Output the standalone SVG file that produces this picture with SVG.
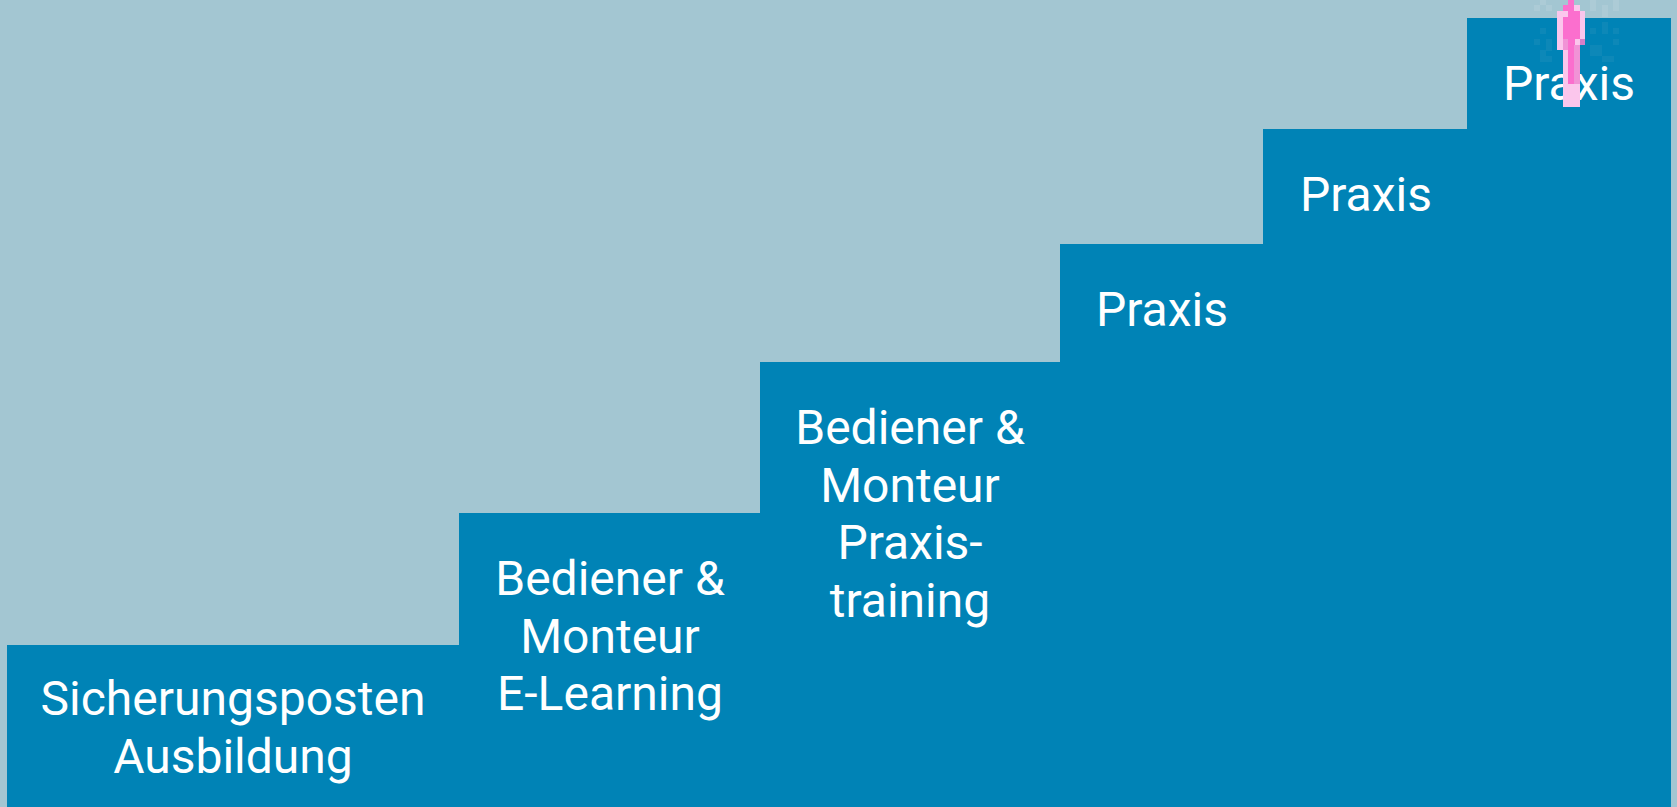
<svg xmlns="http://www.w3.org/2000/svg" width="1677" height="807" viewBox="0 0 1677 807">
<style>
.s{fill:#0083b6}
.t{font-family:Roboto,"Liberation Sans",sans-serif;font-size:48px;fill:#fff;text-anchor:middle}
.p1{fill:#fbc6ec}.p2{fill:#fb6fce}.p3{fill:#f193d6}.p4{fill:#d57fc8}
.l{fill:#accbd6}.d{fill:#0d88b8}
</style>
<rect width="1677" height="807" fill="#a3c6d2"/>
<g id="step1"><rect class="s" x="7" y="645" width="453" height="162"/><text class="t" x="233" y="715">Sicherungsposten</text><text class="t" x="233" y="773">Ausbildung</text></g>
<g id="step2"><rect class="s" x="459" y="513" width="302" height="294"/><text class="t" x="610" y="595">Bediener &amp;</text><text class="t" x="610" y="653">Monteur</text><text class="t" x="610" y="710">E-Learning</text></g>
<g id="step3"><rect class="s" x="760" y="362" width="301" height="445"/><text class="t" x="910" y="444">Bediener &amp;</text><text class="t" x="910" y="502">Monteur</text><text class="t" x="910" y="559">Praxis-</text><text class="t" x="910" y="617">training</text></g>
<g id="step4"><rect class="s" x="1060" y="244" width="204" height="563"/><text class="t" x="1162" y="326">Praxis</text></g>
<g id="step5"><rect class="s" x="1263" y="129" width="205" height="678"/><text class="t" x="1366" y="211">Praxis</text></g>
<g id="step6"><rect class="s" x="1467" y="18" width="204" height="789"/><text class="t" x="1569" y="100">Praxis</text></g>
<g id="noise">
<rect class="l" x="1534" y="5" width="6" height="6"/><rect class="l" x="1546" y="5" width="6" height="6"/><rect class="l" x="1590" y="0" width="6" height="11"/><rect class="l" x="1602" y="5" width="6" height="12"/><rect class="l" x="1613" y="0" width="6" height="11"/><rect class="l" x="1540" y="0" width="6" height="5"/>
<rect class="d" x="1540" y="28" width="6" height="6"/><rect class="d" x="1590" y="28" width="6" height="6"/><rect class="d" x="1602" y="22" width="6" height="12"/><rect class="d" x="1613" y="28" width="6" height="6"/><rect class="d" x="1534" y="39" width="6" height="6"/><rect class="d" x="1546" y="39" width="6" height="6"/><rect class="d" x="1596" y="45" width="6" height="6"/><rect class="d" x="1613" y="39" width="6" height="6"/><rect class="d" x="1546" y="45" width="6" height="6"/><rect class="d" x="1596" y="50" width="6" height="6"/><rect class="d" x="1540" y="50" width="6" height="6"/><rect class="d" x="1590" y="45" width="6" height="6"/><rect class="d" x="1602" y="56" width="12" height="6"/><rect class="d" x="1540" y="56" width="12" height="6"/><rect class="d" x="1590" y="50" width="6" height="6"/>
</g>
<g id="connectors">
<path class="p1" d="M1563 107V50H1557V11H1563V5H1568V0H1574V5H1580V11H1585V45H1580V107Z"/>
<path class="p2" d="M1568 84V45H1563V17H1568V0H1574V11H1580V39H1575V45H1574V84Z"/>
<rect class="p2" x="1563" y="5" width="5" height="6"/>
<rect class="p3" x="1574" y="45" width="6" height="39"/>
<rect class="p4" x="1580" y="39" width="5" height="6"/>
<rect class="p3" x="1563" y="39" width="5" height="11"/>
</g>
</svg>
